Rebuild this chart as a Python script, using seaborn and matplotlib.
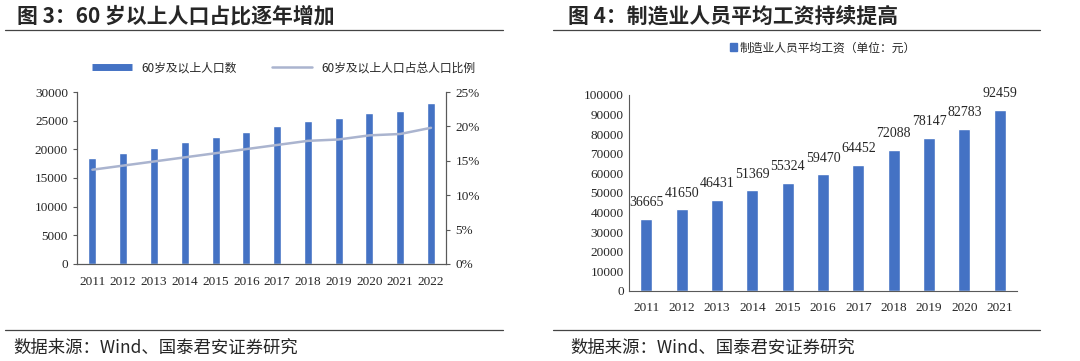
import numpy as np
import pandas as pd
import matplotlib
matplotlib.use("Agg")
import matplotlib.pyplot as plt
from matplotlib.lines import Line2D
from matplotlib.patches import Patch
from matplotlib.ticker import FuncFormatter
import seaborn as sns

# 图3 数据
years = ["2011", "2012", "2013", "2014", "2015", "2016", "2017", "2018", "2019", "2020", "2021", "2022"]
pop_60 = [18499, 19390, 20243, 21242, 22200, 23086, 24090, 24949, 25388, 26402, 26736, 28004]
ratio_60 = [13.7, 14.3, 14.9, 15.5, 16.1, 16.7, 17.3, 17.9, 18.1, 18.7, 18.9, 19.8]

# 图4 数据
wage_years = ["2011", "2012", "2013", "2014", "2015", "2016", "2017", "2018", "2019", "2020", "2021"]
wage = [36665, 41650, 46431, 51369, 55324, 59470, 64452, 72088, 78147, 82783, 92459]

sns.set_style("white")
plt.rcParams['font.family'] = ['Liberation Serif', 'Noto Sans CJK SC', 'DejaVu Sans']
cjk = ['Noto Sans CJK SC', 'DejaVu Sans']
blue = "#4472C4"
gray_line = "#AAB4CF"
spine_c = "#595959"

fig = plt.figure(figsize=(10.8, 3.61), dpi=100)

# 标题和分隔线
fig.text(0.016, 0.955, "图 3：60 岁以上人口占比逐年增加", fontsize=15, fontweight="bold",
         family=cjk, va="center")
fig.text(0.526, 0.955, "图 4：制造业人员平均工资持续提高", fontsize=15, fontweight="bold",
         family=cjk, va="center")
for x0, x1 in [(0.005, 0.466), (0.512, 0.963)]:
    fig.add_artist(Line2D([x0, x1], [0.917, 0.917], color="#444444", lw=0.9))
    fig.add_artist(Line2D([x0, x1], [0.086, 0.086], color="#444444", lw=0.9))
fig.text(0.012, 0.038, "数据来源：Wind、国泰君安证券研究", fontsize=12.5, family=cjk, va="center")
fig.text(0.528, 0.038, "数据来源：Wind、国泰君安证券研究", fontsize=12.5, family=cjk, va="center")

# 图3
df3 = pd.DataFrame({"year": years, "pop": pop_60, "ratio": ratio_60})
ax1 = fig.add_axes([0.0713, 0.269, 0.342, 0.476])
sns.barplot(data=df3, x="year", y="pop", color=blue, width=0.26, saturation=1, ax=ax1)
ax1.set_ylim(0, 30000)
ax1.set_yticks(range(0, 30001, 5000))
ax1.set_xlim(-0.5, len(years) - 0.5)
ax1.set_xlabel("")
ax1.set_ylabel("")
ax2 = ax1.twinx()
sns.lineplot(x=np.arange(len(years)), y=df3["ratio"], color=gray_line, lw=1.8, ax=ax2)
ax2.set_ylim(0, 25)
ax2.set_yticks(range(0, 26, 5))
ax2.yaxis.set_major_formatter(FuncFormatter(lambda v, p: f"{v:.0f}%"))
ax2.set_ylabel("")
for a in (ax1, ax2):
    a.spines["top"].set_visible(False)
    for s in ("left", "right", "bottom"):
        a.spines[s].set_color(spine_c)
        a.spines[s].set_linewidth(0.8)
    a.tick_params(labelsize=9.5, length=3, color=spine_c, direction="out")
ax1.tick_params(axis="x", length=0, pad=9)
ax1.tick_params(axis="y", left=True)
ax2.tick_params(axis="y", right=True)
handles = [Line2D([0], [0], color=blue, lw=5, solid_capstyle="butt"),
           Line2D([0], [0], color=gray_line, lw=1.8)]
ax1.legend(handles, ["60岁及以上人口数", "60岁及以上人口占总人口比例"], loc="center",
           bbox_to_anchor=(0.56, 1.14), ncol=2, frameon=False, prop={"family": cjk, "size": 8.5},
           handlelength=3.4, columnspacing=3)

# 图4
df4 = pd.DataFrame({"year": wage_years, "wage": wage})
ax3 = fig.add_axes([0.582, 0.194, 0.360, 0.543])
sns.barplot(data=df4, x="year", y="wage", color=blue, width=0.34, saturation=1, ax=ax3)
ax3.set_ylim(0, 100000)
ax3.set_yticks(range(0, 100001, 10000))
ax3.set_xlim(-0.5, len(wage_years) - 0.5)
ax3.set_xlabel("")
ax3.set_ylabel("")
for i, v in enumerate(wage):
    ax3.annotate(f"{v}", (i, v), xytext=(0, 7), textcoords="offset points",
                 ha="center", va="bottom", fontsize=10)
for s in ("top", "right"):
    ax3.spines[s].set_visible(False)
for s in ("left", "bottom"):
    ax3.spines[s].set_color(spine_c)
    ax3.spines[s].set_linewidth(0.8)
ax3.tick_params(labelsize=9.5, length=0)
ax3.tick_params(axis="x", pad=8)
ax3.set_xticks(np.arange(len(wage_years) + 1) - 0.5, minor=True)
ax3.tick_params(axis="x", which="minor", length=4, color=spine_c, direction="out")
ax3.legend([Patch(color=blue)], ["制造业人员平均工资（单位：元）"], loc="center",
           bbox_to_anchor=(0.5, 1.24), frameon=False, prop={"family": cjk, "size": 8.5},
           handlelength=0.6, handleheight=0.6, handletextpad=0.2)

fig.savefig("out.png", dpi=100)
